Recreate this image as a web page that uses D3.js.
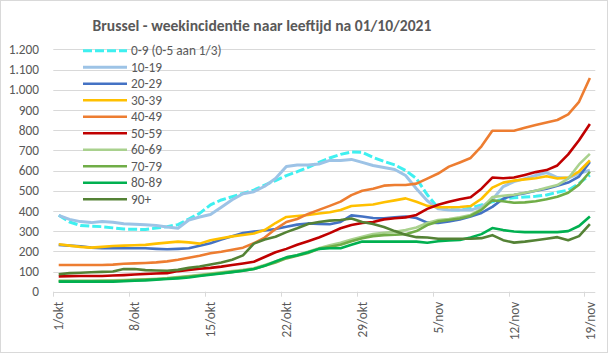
<!DOCTYPE html>
<html>
<head>
<meta charset="utf-8">
<script src="https://cdn.jsdelivr.net/npm/d3@7"></script>
<style>
  body { margin: 0; background: #fff; }
  svg text { font-family: Calibri, Carlito, Lato, sans-serif; fill: #595959; }
</style>
</head>
<body>
<svg id="chart" width="608" height="353"></svg>
<script>
// dagen 1/okt .. 19/nov 2021
const days = d3.timeDay.range(new Date(2021, 9, 1), new Date(2021, 10, 20));
const monthNames = { 9: "okt", 10: "nov" };
const tickEvery = 7;
const yTicks = [0, 100, 200, 300, 400, 500, 600, 700, 800, 900, 1000, 1100, 1200];

const seriesNames = ["0-9 (0-5 aan 1/3)", "10-19", "20-29", "30-39", "40-49", "50-59", "60-69", "70-79", "80-89", "90+"];
const seriesColors = ["#3ff0f0", "#9dc3e6", "#4472c4", "#ffc000", "#ed7d31", "#c00000", "#a9d18e", "#70ad47", "#00b050", "#548235"];

const s0_9 = [378, 345, 328, 324, 322, 316, 310, 309, 308, 315, 322, 332, 360, 388, 430, 454, 470, 487, 503, 528,
  550, 575, 594, 615, 640, 662, 680, 692, 690, 665, 645, 628, 600, 560, 480, 415, 406, 404, 415, 430,
  445, 458, 465, 469, 472, 479, 492, 503, 536, 578];
const s10_19 = [378, 358, 347, 342, 348, 344, 336, 334, 332, 328, 320, 314, 355, 370, 382, 418, 455, 485, 495, 522,
  560, 620, 627, 627, 632, 650, 650, 655, 640, 625, 615, 605, 575, 510, 450, 410, 404, 404, 404, 420,
  455, 520, 545, 560, 575, 590, 565, 562, 585, 602];
const s20_29 = [232, 228, 225, 218, 215, 215, 215, 215, 215, 212, 210, 212, 215, 228, 240, 258, 275, 290, 298, 303,
  310, 322, 332, 338, 336, 334, 345, 378, 372, 365, 363, 368, 372, 365, 342, 340, 348, 358, 372, 390,
  420, 460, 478, 488, 500, 510, 525, 540, 570, 642];
const s30_39 = [235, 228, 222, 218, 222, 226, 228, 230, 232, 238, 243, 248, 244, 238, 255, 265, 274, 281, 288, 305,
  340, 370, 375, 380, 387, 393, 404, 424, 428, 432, 443, 452, 462, 445, 425, 418, 418, 419, 424, 460,
  515, 540, 550, 556, 562, 572, 560, 565, 595, 650];
const s40_49 = [132, 132, 132, 132, 132, 134, 138, 140, 142, 145, 150, 158, 168, 178, 190, 198, 208, 218, 240, 268,
  310, 345, 360, 385, 405, 425, 446, 478, 500, 510, 525, 528, 528, 535, 560, 585, 619, 640, 662, 720,
  797, 797, 797, 812, 825, 838, 850, 878, 940, 1058];
const s50_59 = [76, 77, 78, 78, 78, 80, 82, 85, 88, 90, 92, 102, 108, 114, 118, 124, 132, 140, 148, 172,
  195, 212, 232, 250, 268, 290, 314, 330, 340, 345, 358, 364, 368, 380, 410, 430, 445, 458, 468, 510,
  565, 562, 565, 578, 592, 602, 625, 680, 750, 830];
const s60_69 = [55, 55, 55, 55, 56, 57, 58, 60, 62, 64, 67, 72, 78, 84, 90, 96, 102, 108, 116, 132,
  150, 170, 182, 198, 215, 230, 242, 258, 272, 285, 292, 297, 305, 318, 340, 355, 360, 368, 380, 410,
  468, 475, 480, 490, 500, 515, 528, 560, 630, 682];
const s70_79 = [52, 52, 52, 52, 52, 53, 55, 58, 60, 62, 65, 70, 75, 80, 86, 92, 98, 104, 112, 128,
  145, 165, 178, 192, 212, 222, 232, 250, 265, 275, 280, 282, 285, 300, 330, 348, 355, 362, 375, 405,
  452, 448, 440, 442, 448, 458, 470, 490, 530, 594];
const s80_89 = [50, 50, 50, 50, 50, 50, 52, 54, 56, 60, 63, 66, 70, 78, 84, 90, 97, 104, 112, 128,
  150, 170, 180, 195, 212, 215, 215, 232, 248, 248, 248, 248, 248, 248, 242, 250, 254, 256, 268, 285,
  315, 305, 298, 295, 295, 295, 295, 300, 325, 372];
const s90plus = [86, 92, 94, 96, 98, 100, 112, 112, 107, 105, 104, 108, 118, 125, 135, 145, 158, 180, 238, 258,
  272, 295, 314, 335, 345, 352, 355, 362, 345, 335, 320, 300, 282, 270, 268, 262, 262, 262, 262, 265,
  280, 255, 243, 248, 255, 262, 270, 255, 275, 335];

const seriesValues = [s0_9, s10_19, s20_29, s30_39, s40_49, s50_59, s60_69, s70_79, s80_89, s90plus];

const svg = d3.select("#chart");
const W = 608, H = 353;
const plot = { left: 53.3, right: 595.3, top: 49.3, bottom: 291.7 };

svg.append("rect")
  .attr("x", 0.5).attr("y", 0.5)
  .attr("width", W - 1).attr("height", H - 1)
  .attr("fill", "#fff")
  .attr("stroke", "#d9d9d9");

const x = d3.scaleBand()
  .domain(days.map((d, i) => i))
  .range([plot.left, plot.right])
  .padding(0);
const cx = i => x(i) + x.bandwidth() / 2;

const y = d3.scaleLinear()
  .domain([0, 1200])
  .range([plot.bottom, plot.top]);

const nl = d3.formatLocale({ decimal: ",", thousands: ".", grouping: [3], currency: ["€", ""] });
const fmt = nl.format(",d");

// Grid
svg.append("g")
  .selectAll("line")
  .data(yTicks)
  .join("line")
  .attr("x1", plot.left).attr("x2", plot.right)
  .attr("y1", d => Math.round(y(d)) + 0.5)
  .attr("y2", d => Math.round(y(d)) + 0.5)
  .attr("stroke", "#d9d9d9")
  .attr("stroke-width", 1);

// Y labels
svg.append("g")
  .selectAll("text")
  .data(yTicks)
  .join("text")
  .attr("x", 39)
  .attr("y", d => y(d))
  .attr("dy", "0.35em")
  .attr("text-anchor", "end")
  .style("font-size", "13.3px")
  .text(d => fmt(d));

// X ticks and labels
const tickIdx = d3.range(0, days.length, tickEvery);
svg.append("g")
  .selectAll("line")
  .data(tickIdx)
  .join("line")
  .attr("x1", i => Math.round(x(i)) + 0.5)
  .attr("x2", i => Math.round(x(i)) + 0.5)
  .attr("y1", plot.bottom)
  .attr("y2", plot.bottom + 5)
  .attr("stroke", "#d9d9d9");

svg.append("g")
  .selectAll("text")
  .data(tickIdx)
  .join("text")
  .attr("transform", i => `translate(${cx(i)},${plot.bottom + 10}) rotate(-90)`)
  .attr("text-anchor", "end")
  .attr("dy", "0.35em")
  .style("font-size", "13.3px")
  .text(i => `${days[i].getDate()}/${monthNames[days[i].getMonth()]}`);

// Lines
const line = d3.line()
  .x((d, i) => cx(i))
  .y(d => y(d));

seriesValues.forEach((vals, k) => {
  svg.append("path")
    .datum(vals)
    .attr("fill", "none")
    .attr("stroke", seriesColors[k])
    .attr("stroke-width", k <= 1 ? 3 : 2.6)
    .attr("stroke-linejoin", "round")
    .attr("stroke-dasharray", k === 0 ? "9,3" : null)
    .attr("d", line);
});

// Legend
const legend = svg.append("g");
seriesNames.forEach((name, k) => {
  const ly = 50.7 + k * 16.5;
  legend.append("line")
    .attr("x1", 83).attr("x2", 127)
    .attr("y1", ly).attr("y2", ly)
    .attr("stroke", seriesColors[k])
    .attr("stroke-width", k <= 1 ? 3 : 2.6)
    .attr("stroke-dasharray", k === 0 ? "9,3" : null);
  legend.append("text")
    .attr("x", 131)
    .attr("y", ly)
    .attr("dy", "0.35em")
    .style("font-size", "13.3px")
    .text(name);
});

// Title
svg.append("text")
  .attr("x", 262)
  .attr("y", 31)
  .attr("text-anchor", "middle")
  .style("font-size", "15.6px")
  .style("font-weight", "bold")
  .text("Brussel - weekincidentie naar leeftijd na 01/10/2021");
</script>
</body>
</html>
